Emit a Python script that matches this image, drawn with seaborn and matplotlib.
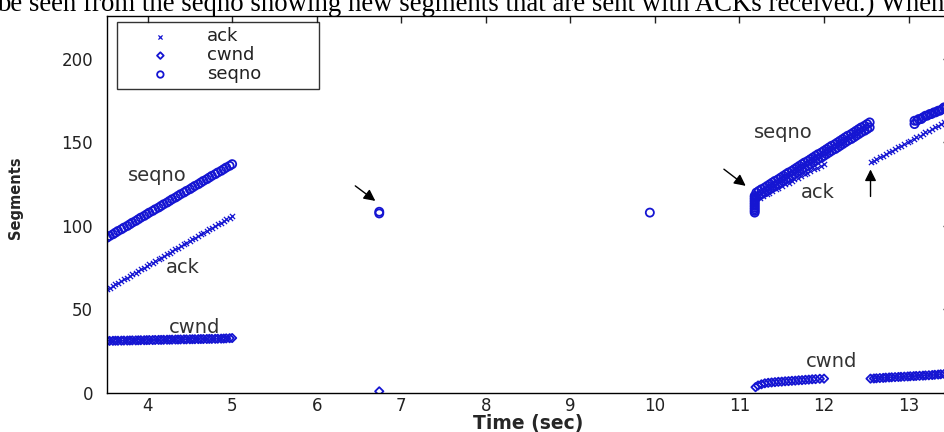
import matplotlib
matplotlib.use("Agg")
import matplotlib.pyplot as plt
import pandas as pd
import seaborn as sns

# ---- data (time in sec, value in segments) ----
seg1_t = [3.52, 3.55, 3.59, 3.62, 3.65, 3.69, 3.72, 3.76, 3.79, 3.82, 3.86, 3.89, 3.92, 3.96, 3.99,
          4.02, 4.06, 4.09, 4.13, 4.16, 4.19, 4.23, 4.26, 4.29, 4.33, 4.36, 4.39, 4.43, 4.46, 4.50,
          4.53, 4.56, 4.60, 4.63, 4.66, 4.70, 4.73, 4.76, 4.80, 4.83, 4.87, 4.90, 4.93, 4.97, 5.00]
seg1_seq = [93, 94, 95, 96, 97, 98, 99, 100, 101, 102, 103, 104, 105, 106, 107,
            108, 109, 110, 111, 112, 113, 114, 115, 116, 117, 118, 119, 120, 121, 122,
            123, 124, 125, 126, 127, 128, 129, 130, 131, 132, 133, 134, 135, 136, 137]
seg1_ack = [62, 63, 64, 65, 66, 67, 68, 69, 70, 71, 72, 73, 74, 75, 76,
            77, 78, 79, 80, 81, 82, 83, 84, 85, 86, 87, 88, 89, 90, 91,
            92, 93, 94, 95, 96, 97, 98, 99, 100, 101, 102, 103, 104, 105, 106]
seg1_cwnd = [31.2, 31.2, 31.25, 31.3, 31.3, 31.35, 31.4, 31.4, 31.45, 31.5, 31.5, 31.55, 31.6, 31.6, 31.65,
             31.7, 31.7, 31.75, 31.8, 31.8, 31.85, 31.9, 31.9, 31.95, 32.0, 32.0, 32.05, 32.1, 32.1, 32.15,
             32.2, 32.2, 32.25, 32.3, 32.3, 32.35, 32.4, 32.4, 32.45, 32.5, 32.55, 32.6, 32.7, 32.8, 32.9]

# lone retransmissions
lone_seq_t = [6.74, 6.74, 9.94]
lone_seq = [107.5, 108.5, 108]
lone_cwnd_t = [6.74]
lone_cwnd = [1]

# recovery burst after 11.2 s
burst_t = [11.18, 11.18, 11.18, 11.18, 11.18, 11.18, 11.18, 11.18, 11.18, 11.18, 11.18]
burst_seq = [108, 109, 110, 111, 112, 113, 114, 115, 116, 117, 118]

seg3_t = [11.20, 11.23, 11.26, 11.30, 11.33, 11.36, 11.39, 11.42, 11.46, 11.49, 11.52, 11.55,
          11.58, 11.62, 11.65, 11.68, 11.71, 11.74, 11.77, 11.81, 11.84, 11.87, 11.90, 11.93,
          11.97, 12.00, 12.03, 12.06, 12.09, 12.13, 12.16, 12.19, 12.22, 12.25, 12.28, 12.32,
          12.35, 12.38, 12.41, 12.44, 12.48, 12.51, 12.54]
seg3_seq_hi = [120, 121, 122, 123, 124, 125, 126, 127, 128, 129, 130, 131,
               132, 133, 134, 135, 136, 137, 138, 139, 140, 141, 142, 143,
               144, 145, 146, 147, 148, 149, 150, 151, 152, 153, 154, 155,
               156, 157, 158, 159, 160, 161, 162]
seg3_seq_lo = [117, 118, 119, 120, 121, 122, 123, 124, 125, 126, 127, 128,
               129, 130, 131, 132, 133, 134, 135, 136, 137, 138, 139, 140,
               141, 142, 143, 144, 145, 146, 147, 148, 149, 150, 151, 152,
               153, 154, 155, 156, 157, 158, 159]

seg3_ack_t = [11.24, 11.28, 11.32, 11.35, 11.39, 11.43, 11.46, 11.50, 11.54, 11.58, 11.62,
              11.65, 11.69, 11.73, 11.77, 11.80, 11.84, 11.88, 11.92, 11.96, 12.00]
seg3_ack = [117, 118, 119, 120, 121, 122, 123, 124, 125, 126, 127,
            128, 129, 130, 131, 132, 133, 134, 135, 136, 137]
seg3_cwnd_t = [11.19, 11.22, 11.26, 11.30, 11.34, 11.38, 11.42, 11.46, 11.50, 11.54, 11.58,
               11.62, 11.66, 11.70, 11.74, 11.78, 11.82, 11.86, 11.90, 11.95, 12.00]
seg3_cwnd = [3.5, 4.5, 5.2, 5.8, 6.1, 6.3, 6.5, 6.7, 6.8, 7.0, 7.1,
             7.3, 7.4, 7.6, 7.7, 7.9, 8.0, 8.2, 8.3, 8.5, 8.6]

seg4_t = [12.55, 12.59, 12.62, 12.66, 12.70, 12.73, 12.77, 12.80, 12.84, 12.88, 12.91, 12.95, 12.99,
          13.02, 13.06, 13.09, 13.13, 13.17, 13.20, 13.24, 13.28, 13.31, 13.35, 13.38, 13.42]
seg4_ack = [138, 139, 140, 141, 142, 143, 144, 145, 146, 147, 148, 149, 150,
            151, 152, 153, 154, 155, 156, 157, 158, 159, 160, 161, 162]
seg4_cwnd = [8.6, 8.7, 8.8, 8.95, 9.05, 9.2, 9.3, 9.4, 9.5, 9.6, 9.7, 9.8, 9.9,
             10.0, 10.1, 10.2, 10.3, 10.4, 10.5, 10.6, 10.75, 10.9, 11.05, 11.2, 11.35]
seg4_seq_t = [13.07, 13.07, 13.10, 13.12, 13.15, 13.17, 13.20, 13.22, 13.25, 13.27,
              13.30, 13.32, 13.35, 13.37, 13.40, 13.42, 13.45]
seg4_seq = [163, 161, 163, 164, 164, 165, 166, 166, 167, 167, 168, 168, 169, 169, 170, 171, 171]

x_ticks = [4, 5, 6, 7, 8, 9, 10, 11, 12, 13]
y_ticks = [0, 50, 100, 150, 200]

BLUE = "#1515d2"

ack = pd.DataFrame({"t": seg1_t + seg3_ack_t + seg4_t,
                    "v": seg1_ack + seg3_ack + seg4_ack})
cwnd = pd.DataFrame({"t": seg1_t + lone_cwnd_t + seg3_cwnd_t + seg4_t,
                     "v": seg1_cwnd + lone_cwnd + seg3_cwnd + seg4_cwnd})
seqno = pd.DataFrame({"t": seg1_t + lone_seq_t + burst_t + seg3_t + seg3_t + seg4_seq_t,
                      "v": seg1_seq + lone_seq + burst_seq + seg3_seq_hi + seg3_seq_lo + seg4_seq})

sns.set_theme(style="white")
plt.rcParams["font.family"] = ["DejaVu Sans"]

fig = plt.figure(figsize=(9.44, 4.32), dpi=100)
ax = fig.add_axes([107 / 944, 39 / 432, 843 / 944, 377 / 432])

sns.scatterplot(data=ack, x="t", y="v", marker="x", s=14, color=BLUE, linewidth=0.9,
                ax=ax, label="ack")
sns.scatterplot(data=cwnd, x="t", y="v", marker="D", s=18, facecolor="none", edgecolor=BLUE,
                linewidth=1.3, ax=ax, label="cwnd")
sns.scatterplot(data=seqno, x="t", y="v", marker="o", s=34, facecolor="none", edgecolor=BLUE,
                linewidth=1.3, ax=ax, label="seqno")

ax.set_xlim(3.52, 13.49)
ax.set_ylim(0, 225.7)
ax.set_xticks(x_ticks)
ax.set_yticks(y_ticks)
ax.tick_params(direction="in", length=5, width=1, top=True, right=True, labelsize=12,
               colors="#222222")
ax.tick_params(axis="x", pad=3)
ax.tick_params(axis="y", pad=10)
for sp in ax.spines.values():
    sp.set_color("black")
    sp.set_linewidth(1.0)
ax.set_xlabel("Time (sec)", fontsize=13.5, fontweight="bold", labelpad=-1)
ax.set_ylabel("Segments", fontsize=10.5, fontweight="bold")
ax.yaxis.set_label_coords(-0.1, 0.517)

# in-plot labels
txt = dict(fontsize=14, color="#333333", ha="center", va="center")
ax.text(4.11, 130, "seqno", **txt)
ax.text(4.42, 75, "ack", **txt)
ax.text(4.56, 39, "cwnd", **txt)
ax.text(11.52, 156, "seqno", **txt)
ax.text(11.93, 120, "ack", **txt)
ax.text(12.09, 19, "cwnd", **txt)

arrow = dict(arrowstyle="-|>", color="black", lw=1.0, mutation_scale=17)
ax.annotate("", xy=(6.72, 114), xytext=(6.43, 125), arrowprops=arrow)
ax.annotate("", xy=(11.1, 123), xytext=(10.79, 135), arrowprops=arrow)
ax.annotate("", xy=(12.55, 135.5), xytext=(12.55, 116), arrowprops=arrow)

leg = ax.legend(loc="upper left", bbox_to_anchor=(0.0119, 0.5, 0.2396, 0.484), mode="expand",
                borderaxespad=0, frameon=True, fancybox=False, edgecolor="black", fontsize=13,
                handletextpad=0.5, borderpad=0.3, labelspacing=0.05, handlelength=4.2,
                markerscale=0.8)
leg.get_frame().set_linewidth(1.0)
for text in leg.get_texts():
    text.set_color("#222222")

fig.text(-0.003, 0.975, "be seen from the seqno showing new segments that are sent with ACKs received.) When",
         family="Liberation Serif", fontsize=19.3, va="baseline", ha="left", color="black")

fig.savefig("out.png", dpi=100)
